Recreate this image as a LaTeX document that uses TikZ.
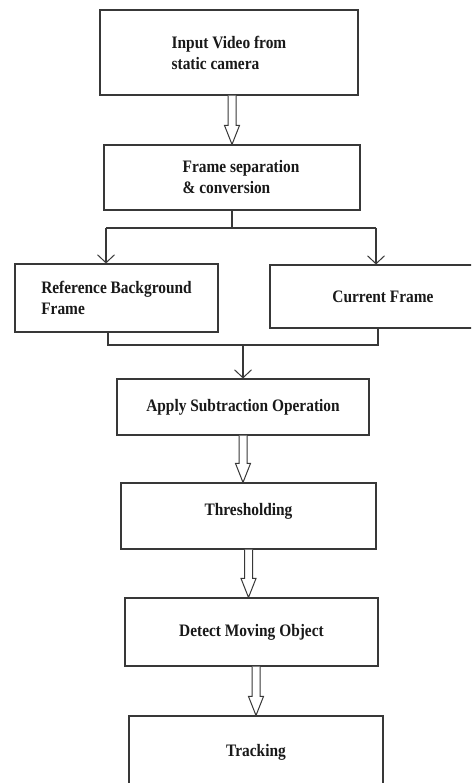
\documentclass[tikz,border=0pt]{standalone}
\usepackage{fontspec}
\setmainfont{Liberation Serif}[FakeStretch=0.88]
\usetikzlibrary{arrows.meta,calc}
\tikzset{
  boxline/.style={draw=black!78, line width=1.1pt},
  fbox/.style={boxline, rectangle, inner sep=0pt, align=left,
    font=\bfseries\fontsize{17.5}{21}\selectfont, text=black!90},
  conn/.style={draw=black!78, line width=1.1pt},
  barb/.style={conn, -{Straight Barb[length=8pt,width=17pt,line width=1pt]}},
}
\newcommand\hollowarrow[2]{%
  \draw[boxline, line width=1pt, fill=white, line join=miter]
    let \p1=(#1), \p2=(#2) in
    (\x1-4pt,\y1) -- (\x1-4pt,\y2+19pt) -- (\x1-7.5pt,\y2+19pt) -- (\x1,\y2)
    -- (\x1+7.5pt,\y2+19pt) -- (\x1+4pt,\y2+19pt) -- (\x1+4pt,\y1);}
\begin{document}
\begin{tikzpicture}[x=1pt,y=-1pt]
\useasboundingbox (0,0) rectangle (471,783);
\clip (0,0) rectangle (471,783);
\fill[white] (0,0) rectangle (471,783);
\node[fbox, minimum width=258pt, minimum height=85pt] (b1) at (229,52.5) {Input Video from\\static camera};
\node[fbox, minimum width=256pt, minimum height=65pt] (b2) at (232,177.5) {\hspace*{18pt}Frame separation\\\hspace*{18pt}\& conversion};
\node[fbox, minimum width=203pt, minimum height=68pt] (b3) at (116.5,298) {Reference Background\\Frame};
\node[fbox, minimum width=226pt, minimum height=63pt] (b4) at (383,296.5) {Current Frame};
\node[fbox, minimum width=252pt, minimum height=56pt] (b5) at (243,407) {Apply Subtraction Operation};
\node[fbox, minimum width=255pt, minimum height=66pt] (b6) at (248.5,516) {\raisebox{1pt}[0pt][0pt]{Thresholding}};
\node[fbox, minimum width=253pt, minimum height=68pt] (b7) at (251.5,632) {Detect Moving Object};
\node[fbox, minimum width=254pt, minimum height=72pt] (b8) at (256,752) {Tracking};
% hollow arrows
\hollowarrow{b2.north |- b1.south}{b2.north}
\hollowarrow{b5.south}{b6.north -| b5.south}
\hollowarrow{b6.south}{b7.north -| b6.south}
\hollowarrow{b8.north |- b7.south}{b8.north}
% split
\coordinate (l1) at (106,228);
\coordinate (r1) at (376,228);
\draw[conn] (b2.south) -- (b2.south |- l1);
\draw[conn] (l1) -- (r1);
\draw[barb] (l1) -- (l1 |- b3.north);
\draw[barb] (r1) -- (r1 |- b4.north);
% merge
\coordinate (l2) at (108,345);
\coordinate (r2) at (378,345);
\draw[conn] (l2 |- b3.south) -- (l2) -- (r2) -- (r2 |- b4.south);
\draw[barb] (b5.north |- l2) -- (b5.north);
\end{tikzpicture}
\end{document}
